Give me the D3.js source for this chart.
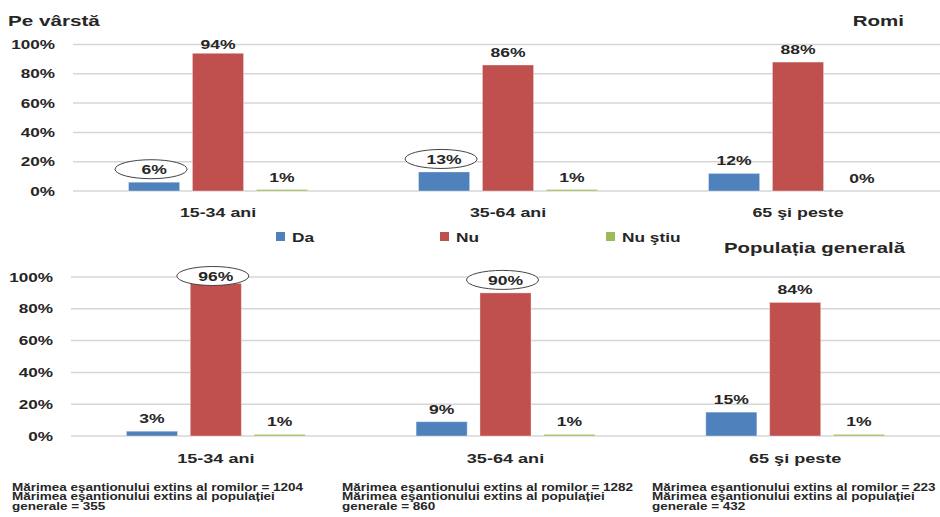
<!DOCTYPE html>
<html>
<head>
<meta charset="utf-8">
<script src="https://cdn.jsdelivr.net/npm/d3@7"></script>
<style>
  html, body { margin: 0; padding: 0; background: #fff; }
  svg { display: block; font-family: "Liberation Sans", Arial, sans-serif; font-weight: bold; }
</style>
</head>
<body>
<svg id="chart" width="940" height="517"></svg>
<script>
// Age groups and answer series
const categories = ["15-34 ani", "35-64 ani", "65 şi peste"];
const series = ["Da", "Nu", "Nu ştiu"];
const seriesColors = ["#4f81bd", "#c0504d", "#9bbb59"];
const yTicks = [0, 0.2, 0.4, 0.6, 0.8, 1.0];

// Roma sample (percent)
const romiDa = [6, 13, 12];
const romiNu = [94, 86, 88];
const romiNuStiu = [1, 1, 0];
// General population sample (percent)
const genDa = [3, 9, 15];
const genNu = [96, 90, 84];
const genNuStiu = [1, 1, 1];

// Labels circled for emphasis: [series index, category index]
const romiCircled = [[0, 0], [0, 1]];
const genCircled = [[1, 0], [1, 1]];

const footnotes = [
  ["Mărimea eşantionului extins al romilor = 1204", "Mărimea eşantionului extins al populației", "generale = 355"],
  ["Mărimea eşantionului extins al romilor = 1282", "Mărimea eşantionului extins al populației", "generale = 860"],
  ["Mărimea eşantionului extins al romilor = 223", "Mărimea eşantionului extins al populației", "generale = 432"]
];

const svg = d3.select("#chart");
const ink = "#262626";
const wide = "scale(1.35,1)";   // the sheet's lettering is set wide
const FONT = "Liberation Sans, Arial, sans-serif";

// place a text at (x, y) with the wide lettering
function label(parent, x, y, str, size, anchor) {
  return parent.append("g").attr("transform", `translate(${x},${y}) ${wide}`)
    .append("text").attr("text-anchor", anchor || "start")
    .attr("fill", ink).style("font-size", size + "px").text(str);
}

function drawPanel(opts) {
  const { values, circled, xRange, yRange, gridRight, tickX, catY, catSize, tickSize, labelSize } = opts;
  const g = svg.append("g");
  const x0 = d3.scaleBand().domain(categories).range(xRange);
  const bw = x0.bandwidth();
  const side = bw * 0.1914;
  const x1 = d3.scaleBand().domain(series).range([side, bw - side]).paddingInner(0.2).paddingOuter(0);
  const y = d3.scaleLinear().domain([0, 1]).range(yRange);

  // gridlines
  g.selectAll("line.grid").data(yTicks).join("line")
    .attr("x1", xRange[0]).attr("x2", gridRight)
    .attr("y1", d => y(d)).attr("y2", d => y(d))
    .attr("stroke", "#d6d6d6").attr("stroke-width", 1.5);

  // y axis labels
  const yAxis = d3.axisLeft(y).tickValues(yTicks).tickFormat(d3.format(".0%")).tickSize(0).tickPadding(0);
  const ya = g.append("g").attr("transform", `translate(${tickX},0)`).call(yAxis);
  ya.select(".domain").remove();
  ya.selectAll("text").attr("fill", ink).attr("transform", wide)
    .style("font-size", tickSize + "px").style("font-family", FONT).style("font-weight", "bold");

  // category axis labels
  const xa = g.append("g").attr("transform", `translate(0,${catY})`)
    .call(d3.axisBottom(x0).tickSize(0).tickPadding(0));
  xa.select(".domain").remove();
  xa.selectAll("text").attr("fill", ink).attr("dy", 0).attr("transform", wide)
    .style("font-size", catSize + "px").style("font-family", FONT).style("font-weight", "bold");

  const rows = [];
  values.forEach((arr, si) => arr.forEach((v, ci) => rows.push({ si, ci, v })));

  const bx = d => x0(categories[d.ci]) + x1(series[d.si]);

  g.selectAll("rect.bar").data(rows).join("rect")
    .attr("x", bx).attr("width", x1.bandwidth())
    .attr("y", d => y(d.v / 100)).attr("height", d => y(0) - y(d.v / 100))
    .attr("fill", d => seriesColors[d.si])
    .attr("stroke", "rgba(255,255,255,0.35)").attr("stroke-width", 1);

  const labelY = d => Math.max(y(d.v / 100) - 8, y(1) + 4);
  const isCircled = d => circled.some(c => c[0] === d.si && c[1] === d.ci);

  g.selectAll("ellipse.mark").data(rows.filter(isCircled)).join("ellipse")
    .attr("cx", d => bx(d) + x1.bandwidth() / 2 - 3)
    .attr("cy", d => labelY(d) - 5)
    .attr("rx", 36).attr("ry", 9.5)
    .attr("fill", "#fff").attr("stroke", "#444").attr("stroke-width", 1);

  rows.forEach(d => label(g, bx(d) + x1.bandwidth() / 2, labelY(d), d.v + "%", labelSize, "middle"));
}

drawPanel({
  values: [romiDa, romiNu, romiNuStiu], circled: romiCircled,
  xRange: [73, 943], yRange: [191, 44.5], gridRight: 940, tickX: 55,
  catY: 217, catSize: 13.2, tickSize: 12.7, labelSize: 13
});
drawPanel({
  values: [genDa, genNu, genNuStiu], circled: genCircled,
  xRange: [71, 940], yRange: [436, 277], gridRight: 940, tickX: 53,
  catY: 463, catSize: 13.4, tickSize: 12.7, labelSize: 13
});

// titles
label(svg, 8, 26, "Pe vârstă", 15.3);
label(svg, 904, 26, "Romi", 15.2, "end");
label(svg, 905, 253, "Populația generală", 15.1, "end");

// legend
const legendX = [276, 440, 606];
const lg = svg.append("g").selectAll("g").data(series).join("g")
  .attr("transform", (d, i) => `translate(${legendX[i]},232)`);
lg.append("rect").attr("width", 9).attr("height", 9).attr("fill", (d, i) => seriesColors[i]);
lg.each(function (d) { label(d3.select(this), 16, 10, d, 12.8); });

// sample sizes
const noteX = [12, 342, 652];
footnotes.forEach((lines, i) => {
  lines.forEach((s, j) => label(svg, noteX[i], 490.5 + j * 9.8, s, 10));
});
</script>
</body>
</html>
